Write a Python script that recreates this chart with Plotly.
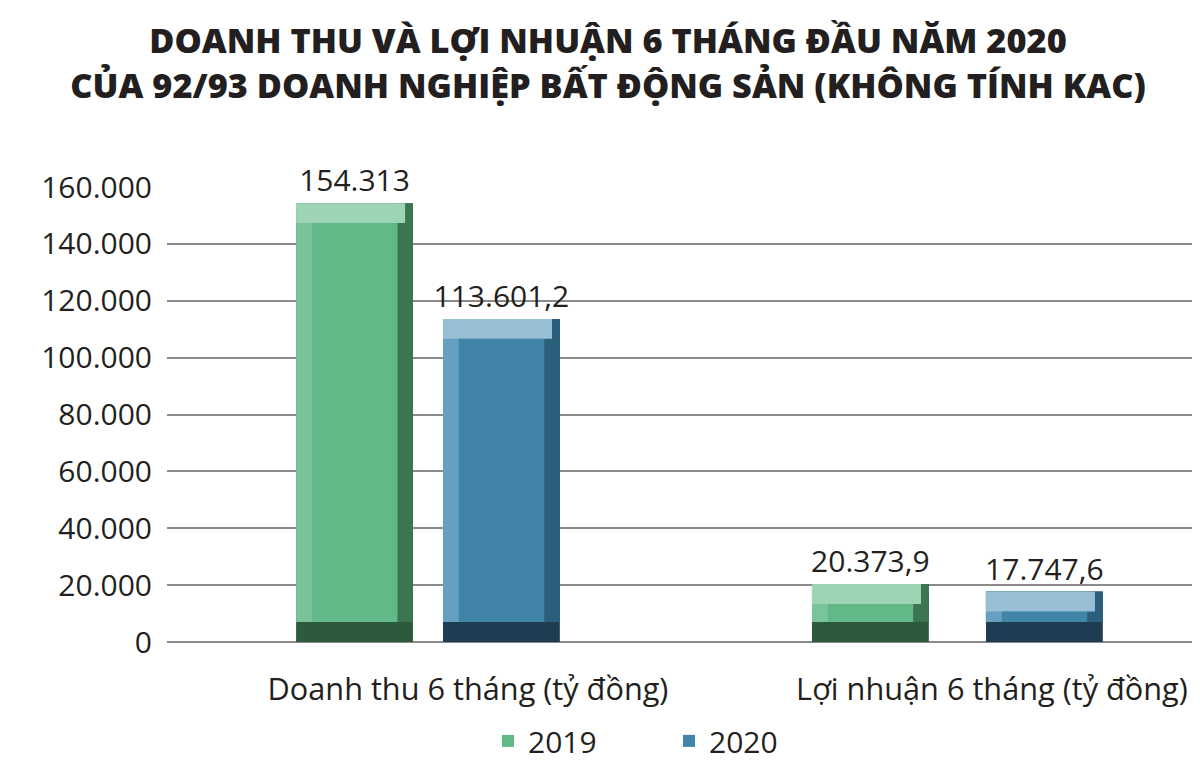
import plotly.graph_objects as go

categories = ["Doanh thu 6 tháng (tỷ đồng)", "Lợi nhuận 6 tháng (tỷ đồng)"]
values_2019 = [154313, 20373.9]
values_2020 = [113601.2, 17747.6]
labels_2019 = ["154.313", "20.373,9"]
labels_2020 = ["113.601,2", "17.747,6"]
series_names = ["2019", "2020"]
tick_vals = [0, 20000, 40000, 60000, 80000, 100000, 120000, 140000, 160000]
tick_text = ["0", "20.000", "40.000", "60.000", "80.000", "100.000", "120.000", "140.000", "160.000"]

FONT = "Open Sans"
TXT = "#231f20"

# bar geometry (category units) and bevel thickness
BAR_W = 0.223
BEV_X = 0.03          # ~16 px
BEV_Y = 7000          # ~20 px in data units

series = [
    dict(name=series_names[0], values=values_2019, labels=labels_2019,
         offset=[-0.328, -0.3435],
         bottom="#2d593d", right="#3d7452", light="#79c599", top="#9dd4b4", main="#60b987"),
    dict(name=series_names[1], values=values_2020, labels=labels_2020,
         offset=[-0.0477, -0.0115],
         bottom="#1e3c52", right="#2c5f7c", light="#679fc0", top="#97bfd5", main="#4084a8"),
]

fig = go.Figure()
for s in series:
    v = s["values"]
    off = s["offset"]
    # dark base layer (bottom bevel) + value labels
    fig.add_trace(go.Bar(
        x=categories, y=v, text=s["labels"], textposition="outside", cliponaxis=False,
        constraintext="none",
        textfont=dict(family=FONT, size=30, color=TXT),
        marker=dict(color=s["bottom"], line=dict(width=0)),
        width=BAR_W, offset=off, showlegend=False, hoverinfo="skip",
    ))
    # right bevel
    fig.add_trace(go.Bar(
        x=categories, y=[val - BEV_Y for val in v], base=BEV_Y,
        marker=dict(color=s["right"], line=dict(width=0)),
        width=BAR_W, offset=off, showlegend=False, hoverinfo="skip",
    ))
    # light layer (left bevel)
    fig.add_trace(go.Bar(
        x=categories, y=[val - BEV_Y for val in v], base=BEV_Y,
        marker=dict(color=s["light"], line=dict(width=0)),
        width=BAR_W - BEV_X, offset=off, showlegend=False, hoverinfo="skip",
    ))
    # top highlight
    fig.add_trace(go.Bar(
        x=categories, y=[BEV_Y] * len(v), base=[val - BEV_Y for val in v],
        marker=dict(color=s["top"], line=dict(width=0)),
        width=BAR_W - BEV_X * 0.5, offset=off, showlegend=False, hoverinfo="skip",
    ))
    # main face
    fig.add_trace(go.Bar(
        name=s["name"], x=categories, y=[val - 2 * BEV_Y for val in v], base=BEV_Y,
        marker=dict(color=s["main"], line=dict(width=0)),
        width=BAR_W - 2 * BEV_X, offset=[o + BEV_X for o in off], showlegend=True,
    ))

fig.update_layout(
    width=1200, height=765,
    paper_bgcolor="white", plot_bgcolor="white",
    margin=dict(l=159, r=8, t=179, b=131, autoexpand=False),
    font=dict(family=FONT, color=TXT, size=30),
    title=dict(
        text="DOANH THU VÀ LỢI NHUẬN 6 THÁNG ĐẦU NĂM 2020<br>CỦA 92/93 DOANH NGHIỆP BẤT ĐỘNG SẢN (KHÔNG TÍNH KAC)",
        x=0.5, xanchor="center", yref="container", y=0.941, yanchor="top",
        font=dict(family=FONT, size=34.3, color=TXT, weight=800),
    ),
    showlegend=True,
    legend=dict(
        orientation="h", xref="container", yref="container",
        x=0.40, xanchor="left", y=0.008, yanchor="bottom",
        font=dict(family=FONT, size=30, color=TXT),
        itemwidth=30, entrywidth=136, tracegroupgap=0, traceorder="normal",
    ),
    barmode="overlay",
)
fig.update_xaxes(
    range=[-0.5744, 1.397], showgrid=False, zeroline=False, showline=False,
    automargin=False,
    ticks="", ticklabelstandoff=26, tickfont=dict(family=FONT, size=30.7, color=TXT),
)
fig.update_yaxes(
    range=[0, 160000], tickvals=tick_vals, ticktext=tick_text,
    automargin=False,
    showgrid=True, gridcolor="#8a8a8a", gridwidth=1.5,
    zeroline=True, zerolinecolor="#8a8a8a", zerolinewidth=1.5,
    showline=False, ticks="", ticklabelstandoff=14,
    tickfont=dict(family=FONT, size=30, color=TXT),
)

fig.write_html("out.html")
